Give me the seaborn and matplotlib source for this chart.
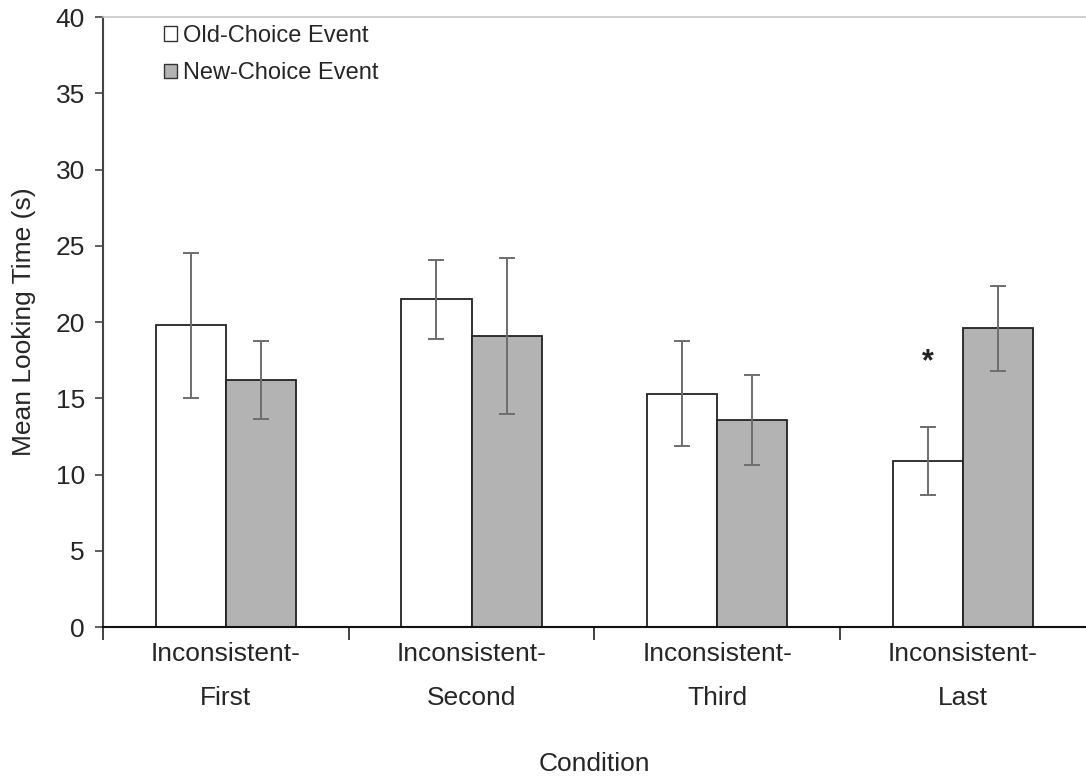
import numpy as np
import pandas as pd
import matplotlib
matplotlib.use("Agg")
import matplotlib.pyplot as plt
import seaborn as sns
from matplotlib.patches import Patch

conditions = ["Inconsistent-\nFirst", "Inconsistent-\nSecond", "Inconsistent-\nThird", "Inconsistent-\nLast"]
events = ["Old-Choice Event", "New-Choice Event"]
old_means = [19.8, 21.5, 15.3, 10.9]
new_means = [16.2, 19.1, 13.6, 19.6]
old_err = [4.75, 2.6, 3.45, 2.25]
new_err = [2.55, 5.1, 2.95, 2.8]
y_ticks = [0, 5, 10, 15, 20, 25, 30, 35, 40]

sns.set_style("white")
plt.rcParams['font.family'] = ['Liberation Sans', 'DejaVu Sans']

df = pd.DataFrame({
    "Condition": conditions * 2,
    "Event": [events[0]] * 4 + [events[1]] * 4,
    "Time": old_means + new_means,
    "Err": old_err + new_err,
})

colors = {"Old-Choice Event": "white", "New-Choice Event": "#b3b3b3"}

fig = plt.figure(figsize=(10.86, 7.8), dpi=100)
ax = fig.add_axes([0.0948, 0.196, 0.905, 0.782])

sns.barplot(data=df, x="Condition", y="Time", hue="Event", order=conditions,
            hue_order=events, palette=colors, width=0.572, errorbar=None,
            edgecolor="#222222", linewidth=1.3, legend=False, ax=ax)

# error bars at the centres of the drawn bars
for cont, ev in zip(ax.containers, events):
    sub = df[df["Event"] == ev].set_index("Condition").loc[conditions]
    xs = [p.get_x() + p.get_width() / 2 for p in cont.patches]
    ax.errorbar(xs, sub["Time"], yerr=sub["Err"], fmt="none", ecolor="#6e6e6e",
                elinewidth=1.4, capsize=6, capthick=1.4, zorder=5)

ax.set_xlim(-0.5, 3.5)
ax.set_ylim(0, 40)
ax.set_yticks(y_ticks)
ax.tick_params(axis="y", labelsize=19, length=6, width=1.2, color="#444444",
               direction="out", left=True, pad=7)
ax.set_xticks(np.arange(4))
ax.set_xticklabels(conditions, fontsize=19, linespacing=2.05)
ax.tick_params(axis="x", which="major", length=0, pad=11)
ax.set_xticks([-0.5, 0.5, 1.5, 2.5], minor=True)
ax.tick_params(axis="x", which="minor", length=9, width=1.2, color="#222222",
               direction="out", bottom=True)

ax.set_ylabel("Mean Looking Time (s)", fontsize=19, labelpad=14)
ax.set_xlabel("Condition", fontsize=19, labelpad=30)

ax.spines["right"].set_visible(False)
ax.spines["top"].set_color("#c8c8c8")
ax.spines["top"].set_linewidth(1.2)
ax.spines["left"].set_color("#444444")
ax.spines["left"].set_linewidth(1.5)
ax.spines["bottom"].set_color("#111111")
ax.spines["bottom"].set_linewidth(1.5)

# significance marker over the old-choice bar of the last condition
last_old = ax.containers[0].patches[3]
ax.text(last_old.get_x() + last_old.get_width() / 2, 17.4, "*", ha="center",
        va="center", fontsize=22, fontweight="bold", color="#222222")

handles = [Patch(facecolor=colors[e], edgecolor="#333333", linewidth=1.0, label=e)
           for e in events]
ax.legend(handles=handles, loc="upper left", bbox_to_anchor=(0.053, 1.003),
          frameon=False, fontsize=17, handlelength=0.55, handleheight=0.55,
          handletextpad=0.25, labelspacing=0.65, borderaxespad=0)

fig.savefig("out.png", dpi=100)
